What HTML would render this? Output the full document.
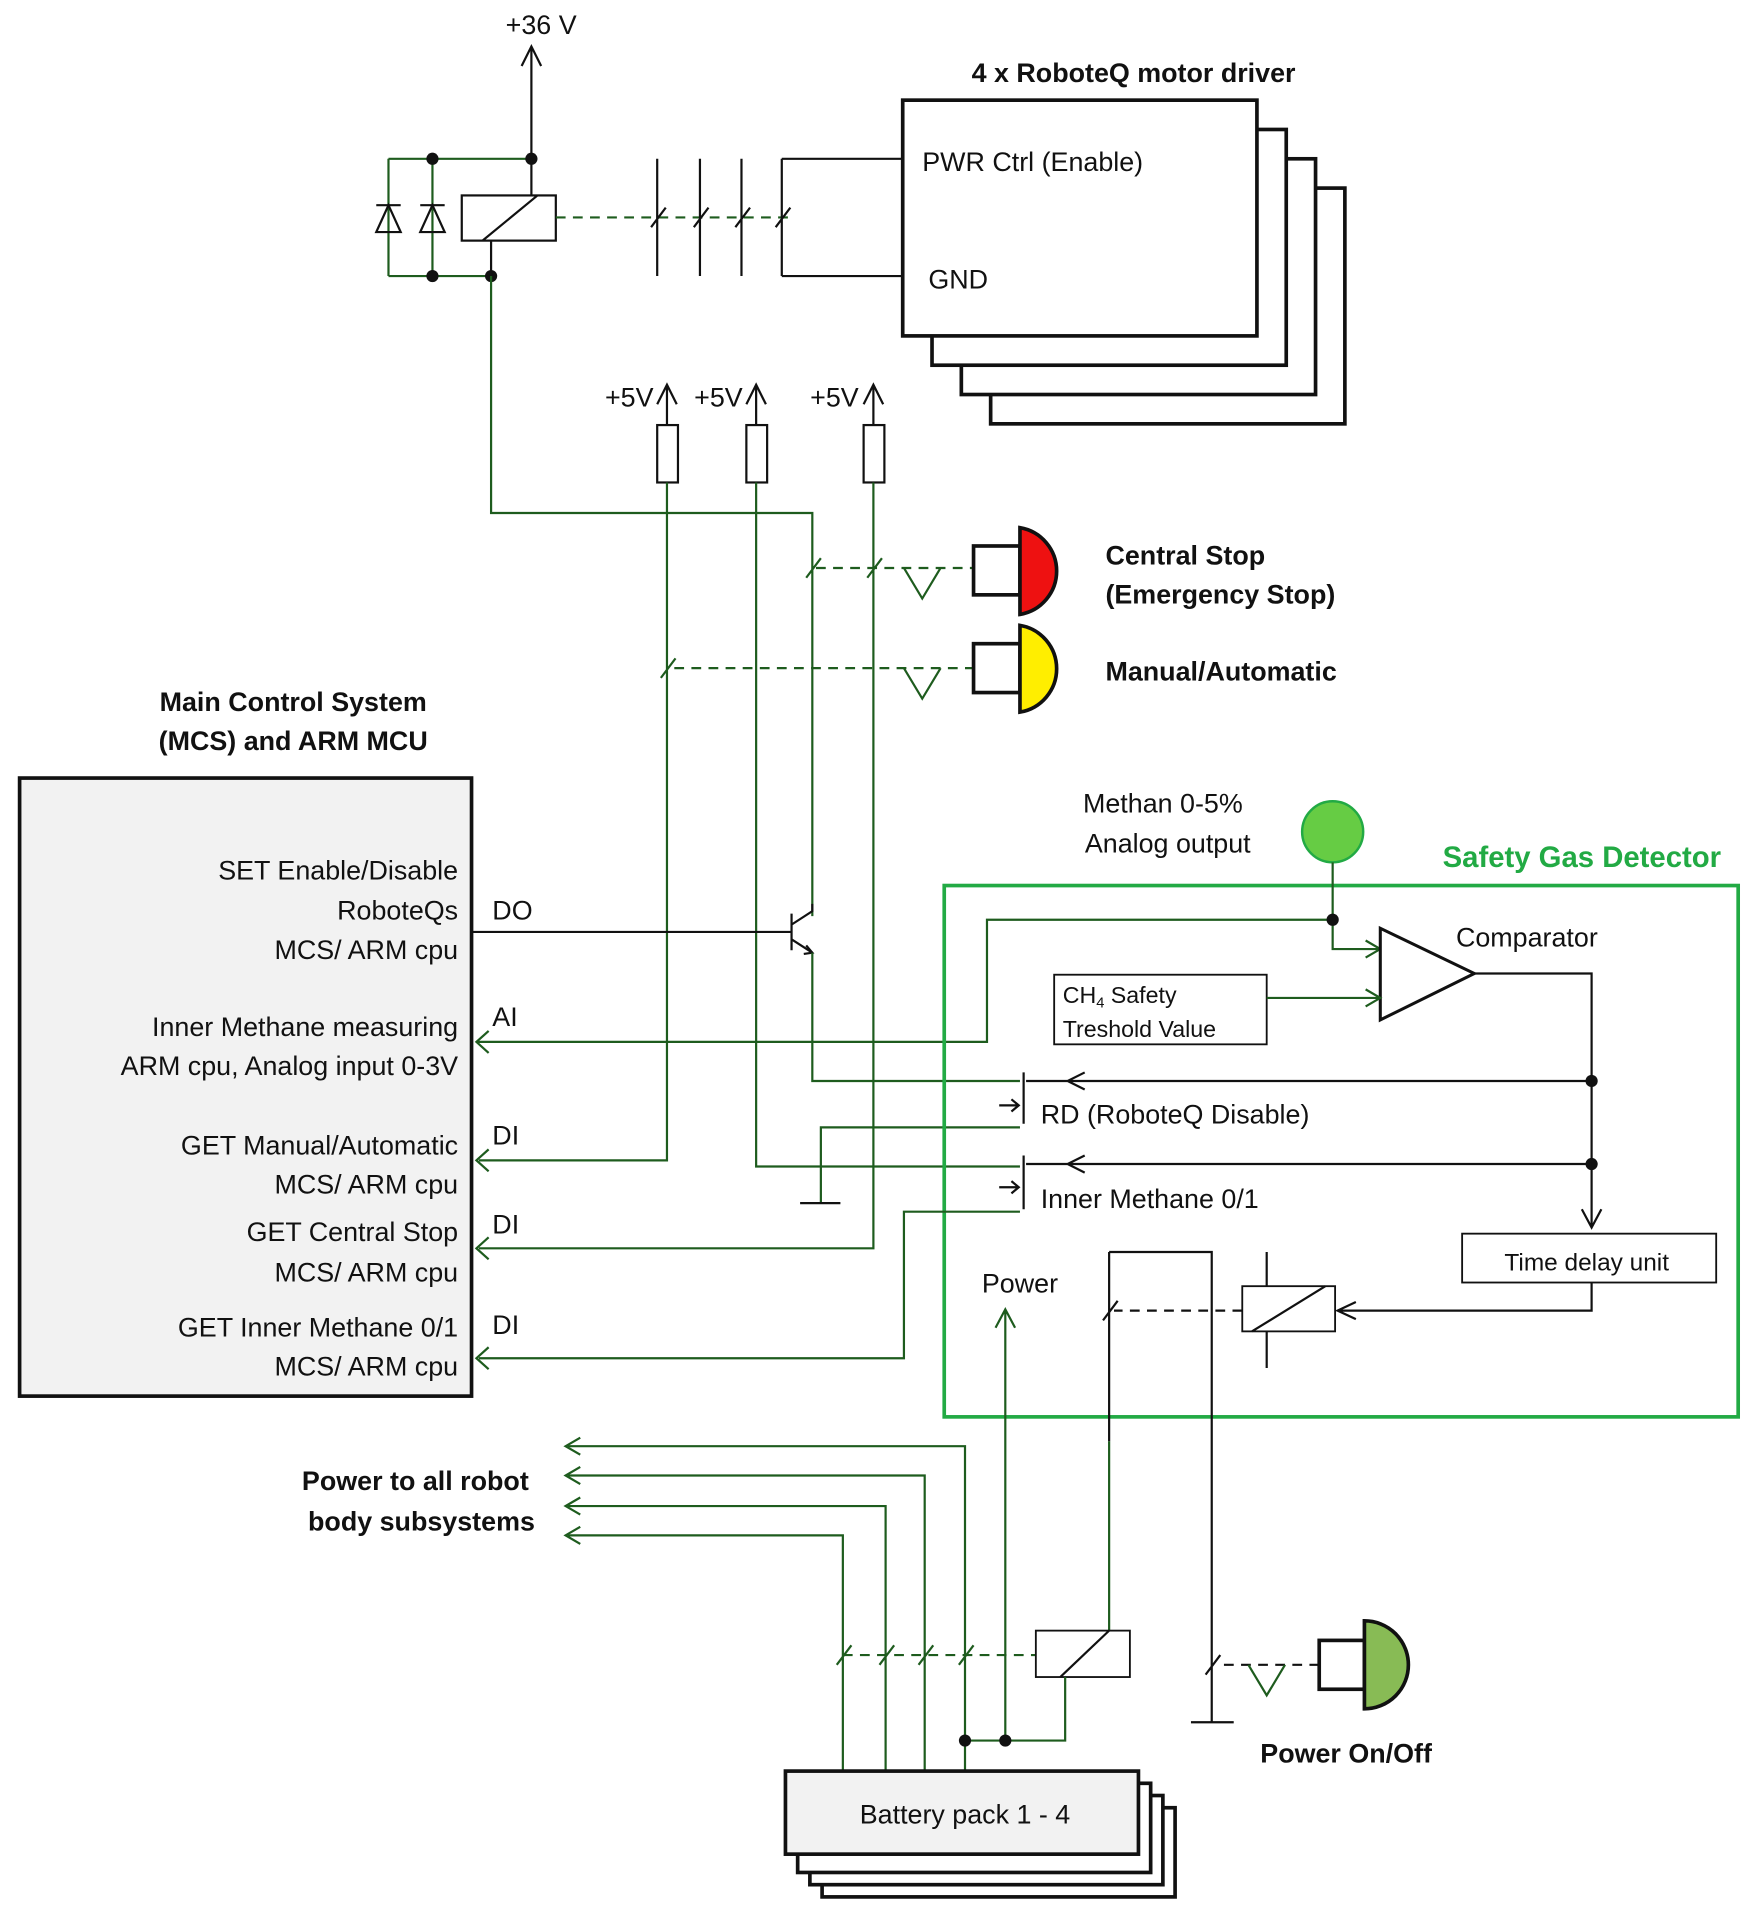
<!DOCTYPE html>
<html><head><meta charset="utf-8"><style>
html,body{margin:0;padding:0;background:#fff;}
svg{display:block;}
text{font-family:"Liberation Sans",sans-serif;font-size:22px;fill:#111;}
.b{font-weight:bold;}
.g{stroke:#1e5c1e;stroke-width:1.8;fill:none;}
.k{stroke:#111;stroke-width:1.8;fill:none;}
.d{stroke:#1e5c1e;stroke-width:1.8;fill:none;stroke-dasharray:8 6;}
.kd{stroke:#111;stroke-width:1.8;fill:none;stroke-dasharray:8 6;}
</style></head><body>
<svg width="1759" height="1914" viewBox="0 0 1440 1567" xmlns="http://www.w3.org/2000/svg">
<text x="443" y="28" text-anchor="middle">+36 V</text>
<path class="k" d="M435 130V38M427 54L435 38L443 54"/>
<path class="g" d="M318 130H435M318 226H402M318 130V226M354 130V226"/>
<path class="k" d="M308 190H328L318 168ZM308 168H328M344 190H364L354 168ZM344 168H364"/>
<circle cx="354" cy="130" r="5" fill="#111"/><circle cx="435" cy="130" r="5" fill="#111"/>
<circle cx="354" cy="226" r="5" fill="#111"/><circle cx="402" cy="226" r="5" fill="#111"/>
<rect x="378" y="160" width="77" height="37" class="k"/>
<path class="k" d="M435 130V160M402 197V226M395 197L440 160"/>
<path class="d" d="M455 178H650"/>
<path class="k" d="M538 130V226M533 186L545 170M573 130V226M568 186L580 170M607 130V226M602 186L614 170M640 130V226M635 186L647 170M640 130H739M640 226H739"/>
<rect x="811" y="154" width="290" height="193" fill="#fff" stroke="#111" stroke-width="3"/>
<rect x="787" y="130" width="290" height="193" fill="#fff" stroke="#111" stroke-width="3"/>
<rect x="763" y="106" width="290" height="193" fill="#fff" stroke="#111" stroke-width="3"/>
<rect x="739" y="82" width="290" height="193" fill="#fff" stroke="#111" stroke-width="3"/>
<text x="928" y="67" text-anchor="middle" class="b">4 x RoboteQ motor driver</text>
<text x="755" y="140">PWR Ctrl (Enable)</text>
<text x="760" y="236">GND</text>
<g class="k"><path d="M546 348V315M538 331L546 315L554 331M619 348V315M611 331L619 315L627 331M715 348V315M707 331L715 315L723 331"/>
<rect x="538" y="348" width="17" height="47"/><rect x="611" y="348" width="17" height="47"/><rect x="707" y="348" width="17" height="47"/></g>
<text x="535" y="333" text-anchor="end">+5V</text><text x="608" y="333" text-anchor="end">+5V</text><text x="703" y="333" text-anchor="end">+5V</text>
<path class="g" d="M402 226V420H665V750M660 473L672 457"/>
<path class="g" d="M546 395V950H392M541 555L553 539"/>
<path class="g" d="M619 395V955H835"/>
<path class="g" d="M715 395V1022H392M710 473L722 457"/>
<path class="g" d="M400 941L390 950L400 959M400 1013L390 1022L400 1031M400 1103L390 1112L400 1121M400 844L390 853L400 862"/>
<path class="d" d="M668 465H797M552 547H797"/>
<path class="g" d="M740 465L755 490L770 465M740 547L755 572L770 547"/>
<rect x="797" y="447" width="38" height="40" fill="#fff" stroke="#111" stroke-width="3"/>
<path d="M835 432A36 36 0 0 1 835 503Z" fill="#ee1111" stroke="#111" stroke-width="3"/>
<rect x="797" y="527" width="38" height="40" fill="#fff" stroke="#111" stroke-width="3"/>
<path d="M835 512A36 36 0 0 1 835 583Z" fill="#ffee00" stroke="#111" stroke-width="3"/>
<text x="905" y="462" class="b">Central Stop</text>
<text x="905" y="494" class="b">(Emergency Stop)</text>
<text x="905" y="557" class="b">Manual/Automatic</text>
<text x="240" y="582" text-anchor="middle" class="b">Main Control System</text>
<text x="240" y="614" text-anchor="middle" class="b">(MCS) and ARM MCU</text>
<rect x="16" y="637" width="370" height="506" fill="#f2f2f2" stroke="#111" stroke-width="3"/>
<g text-anchor="end">
<text x="375" y="720">SET Enable/Disable</text><text x="375" y="753">RoboteQs</text><text x="375" y="785">MCS/ ARM cpu</text>
<text x="375" y="848">Inner Methane measuring</text><text x="375" y="880">ARM cpu, Analog input 0-3V</text>
<text x="375" y="945">GET Manual/Automatic</text><text x="375" y="977">MCS/ ARM cpu</text>
<text x="375" y="1016">GET Central Stop</text><text x="375" y="1049">MCS/ ARM cpu</text>
<text x="375" y="1094">GET Inner Methane 0/1</text><text x="375" y="1126">MCS/ ARM cpu</text>
</g>
<text x="403" y="753">DO</text><text x="403" y="840">AI</text><text x="403" y="937">DI</text><text x="403" y="1010">DI</text><text x="403" y="1092">DI</text>
<path class="k" d="M387 763H648M648 748V778M648 757L665 746V740M648 769L665 780"/>
<path class="k" d="M660 774L665 780L658 781"/>
<path class="g" d="M665 780V885H835"/>
<path class="g" d="M835 923H672V985"/><path class="k" d="M655 985H688" stroke-width="3"/>
<path class="g" d="M390 853H808V753H1090"/>
<rect x="773" y="725" width="650" height="435" fill="none" stroke="#22aa44" stroke-width="3"/>
<text x="1295" y="710" text-anchor="middle" class="b" style="fill:#22aa44;font-size:24px">Safety Gas Detector</text>
<text x="952" y="665" text-anchor="middle">Methan 0-5%</text>
<text x="956" y="698" text-anchor="middle">Analog output</text>
<circle cx="1091" cy="681" r="25" fill="#66cc44" stroke="#22aa44" stroke-width="2"/>
<path class="g" d="M1091 706V777H1130M1118 770L1130 777L1118 784"/>
<circle cx="1091" cy="753" r="5" fill="#111"/>
<path d="M1130 760L1130 835L1207 797Z" fill="#fff" stroke="#111" stroke-width="2.5"/>
<text x="1250" y="775" text-anchor="middle">Comparator</text>
<rect x="863" y="798" width="174" height="57" fill="#fff" stroke="#111" stroke-width="1.5"/>
<text x="870" y="821" style="font-size:19px">CH<tspan dy="4" style="font-size:12px">4</tspan><tspan dy="-4"> Safety</tspan></text>
<text x="870" y="849" style="font-size:19px">Treshold Value</text>
<path class="g" d="M1037 817H1130M1118 810L1130 817L1118 824"/>
<path class="k" d="M1207 797H1303V1005M1295 990L1303 1005L1311 990"/>
<circle cx="1303" cy="885" r="5" fill="#111"/><circle cx="1303" cy="953" r="5" fill="#111"/>
<path class="k" d="M1303 885H840M888 878L874 885L888 892M1303 953H840M888 946L874 953L888 960"/>
<path class="k" d="M838 878V920M838 946V990M818 905H834M828 900L834 905L828 910M818 972H834M828 967L834 972L828 977"/>
<text x="852" y="920">RD (RoboteQ Disable)</text>
<text x="852" y="989">Inner Methane 0/1</text>
<path class="g" d="M835 992H740V1112H392"/>
<rect x="1197" y="1010" width="208" height="40" fill="#fff" stroke="#111" stroke-width="1.5"/>
<text x="1299" y="1040" text-anchor="middle" style="font-size:20px">Time delay unit</text>
<path class="k" d="M1303 1050V1073H1095M1110 1066L1095 1073L1110 1080"/>
<rect x="1017" y="1053" width="76" height="37" fill="#fff" stroke="#111" stroke-width="1.5"/>
<path class="k" d="M1037 1025V1053M1037 1090V1120M1025 1090L1085 1053"/>
<path class="kd" d="M1017 1073H912"/>
<path class="k" d="M908 1025H992V1410M987 1371L999 1355M975 1410H1010" />
<path class="k" d="M908 1025V1180M903 1081L915 1065"/>
<path class="g" d="M908 1180V1337"/>
<text x="835" y="1058" text-anchor="middle">Power</text>
<path class="g" d="M823 1425V1072M815 1087L823 1072L831 1087"/>
<path class="kd" d="M1002 1363H1080"/>
<path class="g" d="M1022 1363L1037 1388L1052 1363"/>
<rect x="1080" y="1343" width="37" height="40" fill="#fff" stroke="#111" stroke-width="3"/>
<path d="M1117 1327A36 36 0 0 1 1117 1399Z" fill="#88bb55" stroke="#111" stroke-width="3"/>
<text x="1102" y="1443" text-anchor="middle" class="b">Power On/Off</text>
<path class="g" d="M690 1450V1257H465M685 1363L697 1347M725 1450V1233H465M720 1363L732 1347M757 1450V1208H465M752 1363L764 1347M790 1450V1184H465M785 1363L797 1347"/>
<path class="g" d="M475 1250L463 1257L475 1264M475 1226L463 1233L475 1240M475 1201L463 1208L475 1215M475 1177L463 1184L475 1191"/>
<path class="d" d="M690 1355H848"/>
<rect x="848" y="1335" width="77" height="38" fill="#fff" stroke="#111" stroke-width="1.5"/>
<path class="k" d="M868 1373L908 1335"/>
<path class="g" d="M872 1373V1425H790"/>
<circle cx="790" cy="1425" r="5" fill="#111"/><circle cx="823" cy="1425" r="5" fill="#111"/>
<text x="340" y="1220" text-anchor="middle" class="b">Power to all robot</text>
<text x="345" y="1253" text-anchor="middle" class="b">body subsystems</text>
<rect x="673" y="1480" width="289" height="73" fill="#fff" stroke="#111" stroke-width="3"/>
<rect x="663" y="1470" width="289" height="73" fill="#fff" stroke="#111" stroke-width="3"/>
<rect x="653" y="1460" width="289" height="73" fill="#fff" stroke="#111" stroke-width="3"/>
<rect x="643" y="1450" width="289" height="68" fill="#f2f2f2" stroke="#111" stroke-width="3"/>
<text x="790" y="1493" text-anchor="middle">Battery pack 1 - 4</text>
</svg>
</body></html>
